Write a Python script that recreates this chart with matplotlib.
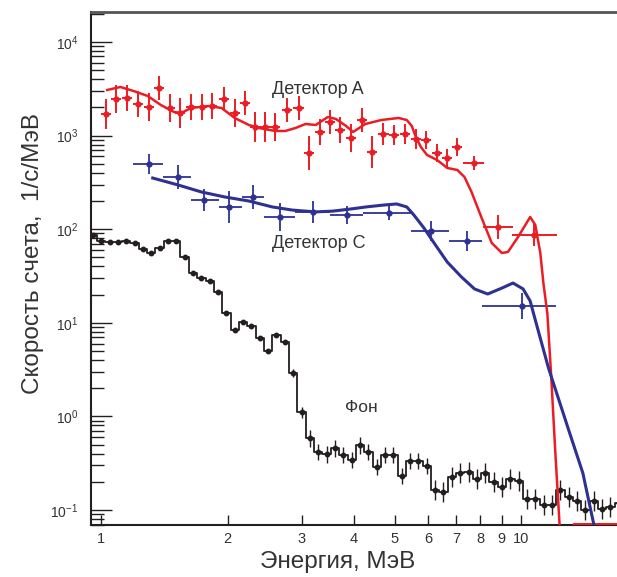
import numpy as np
import matplotlib
matplotlib.use("Agg")
import matplotlib.pyplot as plt
from matplotlib.ticker import LogLocator, NullLocator, FixedLocator, FixedFormatter

plt.rcParams['font.family'] = ['Liberation Sans', 'DejaVu Sans']

# ---------------- data ----------------
# Detector A (red) measured points
a_energy = [1.028, 1.087, 1.155, 1.221, 1.298, 1.372, 1.458, 1.542, 1.638, 1.742,
            1.841, 1.957, 2.080, 2.199, 2.325, 2.457, 2.597, 2.776, 2.951, 3.119,
            3.315, 3.504, 3.705, 3.937, 4.184, 4.424, 4.702, 4.970, 5.283, 5.615,
            5.935, 6.310, 6.670, 7.051, 7.703, 8.802, 10.75]
a_rate = [1702, 2460, 2521, 2177, 2022, 3226, 1972, 1742, 2022, 2022,
          2071, 2460, 1742, 2230, 1236, 1236, 1236, 1878, 1972, 652,
          1093, 1397, 1148, 942, 1468, 668, 1040, 1015, 1040, 920,
          897, 652, 577, 755, 510, 106, 86.7]
a_dlogy = [0.16, 0.15, 0.14, 0.14, 0.15, 0.13, 0.15, 0.16, 0.14, 0.14,
           0.14, 0.13, 0.15, 0.13, 0.16, 0.16, 0.15, 0.13, 0.13, 0.18,
           0.14, 0.13, 0.14, 0.15, 0.13, 0.17, 0.12, 0.11, 0.11, 0.11,
           0.10, 0.10, 0.10, 0.10, 0.07, 0.13, 0.12]
a_dlogx = [0.012] * 34 + [0.024, 0.035, 0.054]

# Detector A fit (red curve)
a_fit_e = [1.034, 1.111, 1.194, 1.291, 1.387, 1.491, 1.550, 1.638, 1.800, 1.935,
           2.080, 2.248, 2.376, 2.597, 2.746, 2.902, 3.067, 3.243, 3.466, 3.623,
           3.830, 3.981, 4.256, 4.651, 5.110, 5.342, 5.492, 5.615, 5.773, 5.969,
           6.310, 6.670, 7.051, 7.331, 7.620, 8.054, 8.514, 9.000, 9.305, 9.835,
           10.51, 10.81, 11.11, 11.30, 11.55, 11.80, 12.05, 12.35, 12.60, 13.25,
           13.35, 17.6]
a_fit_r = [3069, 3304, 2995, 2650, 2123, 1787, 1742, 1972, 2071, 1972,
           1542, 1298, 1205, 1120, 1120, 1205, 1330, 1298, 1580, 1504,
           1267, 1093, 1330, 1468, 1542, 1468, 1267, 966, 755, 621,
           548, 451, 429, 361, 250, 132, 71.2, 55.7, 57.1, 82.6,
           135, 111, 55.7, 26.6, 12.5, 2.6, 0.45, 0.069, 0.01, 0.01,
           0.0705, 0.0705]

# Detector C (blue) measured points
c_energy = [1.298, 1.524, 1.762, 2.012, 2.298, 2.671, 3.189, 3.851, 4.834, 6.103, 7.413, 10.06]
c_rate = [497, 361, 205, 173, 221, 135, 153, 142, 149, 95.7, 74.8, 15.1]
c_e_lo = [1.188, 1.403, 1.638, 1.913, 2.162, 2.443, 2.902, 3.504, 4.208, 5.463, 6.745, 8.054]
c_e_hi = [1.403, 1.638, 1.913, 2.162, 2.443, 2.902, 3.504, 4.208, 5.463, 6.745, 8.054, 12.08]
c_dlogy = [0.11, 0.13, 0.12, 0.17, 0.13, 0.15, 0.12, 0.10, 0.08, 0.11, 0.11, 0.14]

# Detector C fit (blue curve)
c_fit_e = [1.327, 1.524, 1.732, 1.968, 2.248, 2.554, 2.854, 3.243, 3.563, 3.915,
           4.279, 4.702, 5.053, 5.342, 5.553, 5.871, 6.206, 6.670, 7.210, 7.746,
           8.327, 9.000, 9.566, 10.11, 10.51, 10.81, 11.62, 12.98, 14.03, 14.91]
c_fit_r = [352, 297, 250, 221, 200, 173, 160, 153, 156, 164,
           173, 181, 186, 173, 142, 103, 71.2, 44.6, 30.9, 23.0,
           20.3, 23.5, 26.6, 23.0, 17.1, 10.7, 3.29, 0.716, 0.248, 0.069]

# Background ("Фон") histogram
bg_energy = [0.955, 1.000, 1.047, 1.096, 1.147, 1.201, 1.257, 1.316, 1.378, 1.442,
             1.510, 1.580, 1.654, 1.732, 1.813, 1.898, 1.987, 2.080, 2.178, 2.280,
             2.386, 2.498, 2.615, 2.738, 2.866, 3.000, 3.141, 3.288, 3.442, 3.603,
             3.772, 3.949, 4.134, 4.327, 4.530, 4.742, 4.965, 5.197, 5.441, 5.696,
             5.962, 6.242, 6.534, 6.840, 7.161, 7.496, 7.848, 8.215, 8.600, 9.003,
             9.425, 9.867, 10.33, 10.81, 11.32, 11.85, 12.40, 12.98, 13.59, 14.23,
             14.90, 15.59, 16.32, 17.09]
bg_rate = [86.7, 74.8, 73.0, 73.0, 74.8, 71.2, 61.4, 55.7, 63.0, 74.8,
           74.8, 50.5, 34.0, 30.1, 28.0, 21.3, 12.7, 8.38, 10.2, 9.25,
           6.88, 5.00, 7.41, 6.24, 2.91, 1.11, 0.587, 0.417, 0.396, 0.459,
           0.387, 0.342, 0.494, 0.417, 0.288, 0.387, 0.387, 0.231, 0.334, 0.334,
           0.295, 0.164, 0.156, 0.225, 0.248, 0.255, 0.214, 0.248, 0.199, 0.176,
           0.214, 0.204, 0.131, 0.131, 0.113, 0.113, 0.164, 0.138, 0.125, 0.100,
           0.125, 0.1025, 0.108, 0.119]
bg_dlogy = [0.015] * 24 + [0.04, 0.06] + [0.09] * 15 + [0.11] * 23

x_ticks = [1, 2, 3, 4, 5, 6, 7, 8, 9, 10]
x_ticklabels = ["1", "2", "3", "4", "5", "6", "7", "8", "9", "10"]

label_a = "Детектор A"
label_c = "Детектор C"
label_bg = "Фон"
xlabel = "Энергия, МэВ"
ylabel = "Скорость счета,  1/с/МэВ"

# ---------------- figure ----------------
W, H = 617, 577
fig = plt.figure(figsize=(W / 100, H / 100), dpi=100)
fig.patch.set_facecolor("white")
ax = fig.add_axes([91 / W, (H - 525) / H, (W - 91) / W + 0.01, (525 - 12) / H])
ax.set_xscale("log")
ax.set_yscale("log")
ax.set_xlim(0.946, 17.5)
ax.set_ylim(0.0692, 20900)

red = "#ec1c24"
blue = "#2e3192"
black = "#231f20"


def yerr_from_dlog(vals, dlog):
    v = np.asarray(vals, float)
    f = 10 ** np.asarray(dlog, float)
    return np.vstack([v - v / f, v * f - v])


# background histogram
bg_e = np.asarray(bg_energy)
bg_r = np.asarray(bg_rate)
ax.plot(bg_e, bg_r, drawstyle="steps-mid", color=black, lw=1.3, zorder=3)
ax.errorbar(bg_e, bg_r, yerr=yerr_from_dlog(bg_r, bg_dlogy), fmt="o", ms=3.2,
            color=black, ecolor=black, elinewidth=1.0, capsize=0, zorder=4)

# detector A
a_e = np.asarray(a_energy)
a_r = np.asarray(a_rate)
fx = 10 ** np.asarray(a_dlogx)
a_xerr = np.vstack([a_e - a_e / fx, a_e * fx - a_e])
ax.errorbar(a_e, a_r, xerr=a_xerr, yerr=yerr_from_dlog(a_r, a_dlogy), fmt="o", ms=3.5,
            color=red, ecolor=red, elinewidth=1.4, capsize=0, zorder=5)
ax.plot(a_fit_e, a_fit_r, color=red, lw=1.8, zorder=6)

# detector C
c_e = np.asarray(c_energy)
c_r = np.asarray(c_rate)
c_xerr = np.vstack([c_e - np.asarray(c_e_lo), np.asarray(c_e_hi) - c_e])
ax.errorbar(c_e, c_r, xerr=c_xerr, yerr=yerr_from_dlog(c_r, c_dlogy), fmt="o", ms=3.5,
            color=blue, ecolor=blue, elinewidth=1.3, capsize=0, zorder=5)
ax.plot(c_fit_e, c_fit_r, color=blue, lw=2.2, zorder=6)

# labels in plot
txtc = "#333333"
ax.text(2.555, 3069, label_a, fontsize=13, color=txtc, va="center", ha="left")
ax.text(2.555, 71, label_c, fontsize=13, color=txtc, va="center", ha="left")
ax.text(3.81, 1.25, label_bg, fontsize=12.5, color=txtc, va="center", ha="left")

# axes styling
ax.spines["right"].set_visible(False)
ax.spines["top"].set_color("#555555")
ax.spines["top"].set_linewidth(2.0)
for s in ("left", "bottom"):
    ax.spines[s].set_color(black)
    ax.spines[s].set_linewidth(1.5)

ax.xaxis.set_major_locator(FixedLocator(x_ticks))
ax.xaxis.set_major_formatter(FixedFormatter(x_ticklabels))
ax.xaxis.set_minor_locator(NullLocator())
ax.yaxis.set_major_locator(LogLocator(base=10, numticks=10))
ax.yaxis.set_minor_locator(LogLocator(base=10, subs=np.arange(2, 10), numticks=20))
ax.tick_params(axis="x", which="major", direction="in", length=7, width=1.0,
               colors=black, labelcolor="#333333", labelsize=10.5, pad=5, top=False)
ax.tick_params(axis="y", which="major", direction="in", length=15, width=1.0,
               colors=black, labelcolor="#333333", labelsize=10, pad=9, right=False)
ax.tick_params(axis="y", which="minor", direction="in", length=9, width=1.0,
               colors=black, right=False)

ax.set_xlabel(xlabel, fontsize=17.5, color="#333333")
ax.set_ylabel(ylabel, fontsize=17.5, color="#333333")
ax_w_px = ax.get_position().width * W
ax.xaxis.set_label_coords((338 - 91) / ax_w_px, -(551 - 525) / 513)
ax.yaxis.set_label_coords((44 - 91) / ax_w_px, (525 - 253) / 513)

fig.savefig("out.png", dpi=100, facecolor=fig.get_facecolor())
